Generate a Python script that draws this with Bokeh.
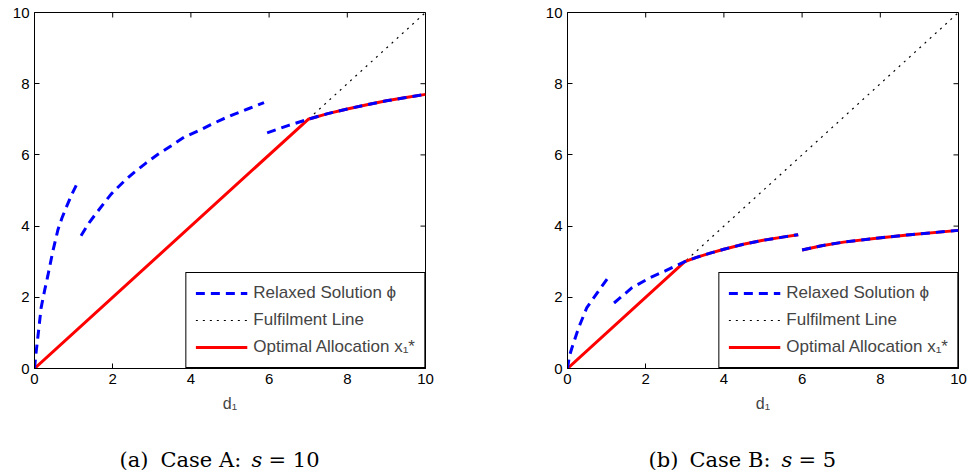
from bokeh.plotting import figure
from bokeh.models import Legend, LegendItem, FixedTicker, Range1d
from bokeh.layouts import row, column
from bokeh.core.properties import value
from bokeh.embed import file_html
from bokeh.resources import INLINE

# ---------------- data ----------------
ticks = [0, 2, 4, 6, 8, 10]
fulfil_x = [0, 10]
fulfil_y = [0, 10]

# Case A (s = 10): relaxed solution phi, three pieces
a_phi1_x = [0, 0.03, 0.085, 0.17, 0.26, 0.34, 0.47, 0.60, 0.70, 0.81, 0.95, 1.10]
a_phi1_y = [0, 0.35, 0.87, 1.71, 2.20, 2.60, 3.30, 3.90, 4.22, 4.52, 4.88, 5.22]
a_phi2_x = [1.19, 1.40, 1.62, 1.96, 2.30, 2.55, 2.85, 3.15, 3.50, 3.83, 4.20, 4.51, 4.80, 5.10, 5.50, 5.87]
a_phi2_y = [3.73, 4.10, 4.42, 4.90, 5.27, 5.51, 5.77, 6.01, 6.26, 6.50, 6.68, 6.85, 7.00, 7.14, 7.31, 7.47]
a_phi3_x = [5.95, 6.5, 7.0, 7.5, 8.0, 8.5, 9.0, 9.5, 10.0]
a_phi3_y = [6.62, 6.83, 7.00, 7.16, 7.29, 7.41, 7.52, 7.61, 7.70]
# Case A: optimal allocation x1*
a_opt_x = [0, 7.0, 7.5, 8.0, 8.5, 9.0, 9.5, 10.0]
a_opt_y = [0, 7.0, 7.16, 7.29, 7.41, 7.52, 7.61, 7.70]

# Case B (s = 5): relaxed solution phi, three pieces
b_phi1_x = [0, 0.05, 0.11, 0.28, 0.49, 0.79, 1.09]
b_phi1_y = [0, 0.35, 0.57, 1.13, 1.70, 2.17, 2.63]
b_phi2_x = [1.19, 1.65, 2.11, 2.50, 2.80, 3.00, 3.30, 3.65, 4.00, 4.50, 5.00, 5.50, 5.90]
b_phi2_y = [1.84, 2.27, 2.55, 2.74, 2.90, 3.00, 3.12, 3.24, 3.35, 3.49, 3.60, 3.69, 3.76]
b_phi3_x = [6.0, 6.5, 7.06, 7.9, 8.76, 10.0]
b_phi3_y = [3.33, 3.45, 3.55, 3.66, 3.76, 3.88]
# Case B: optimal allocation x1*, two pieces
b_opt1_x = [0, 3.00, 3.30, 3.65, 4.00, 4.50, 5.00, 5.50, 5.90]
b_opt1_y = [0, 3.00, 3.12, 3.24, 3.35, 3.49, 3.60, 3.69, 3.76]
b_opt2_x = [6.0, 6.5, 7.06, 7.9, 8.76, 10.0]
b_opt2_y = [3.33, 3.45, 3.55, 3.66, 3.76, 3.88]

legend_labels = ["Relaxed Solution \u03d5", "Fulfilment Line", "Optimal Allocation x\u2081*"]
x_label = "d\u2081"
cap_a = ["(a)", "Case A:", "s", "= 10"]
cap_b = ["(b)", "Case B:", "s", "= 5"]

# ---------------- styling ----------------
SANS = "Liberation Sans"
SERIF = "DejaVu Serif"
BLUE = "#0000ff"
RED = "#ff0000"
FW, FH = 391, 356
TICK_PX = 5
CAP_H = 46


def style_axis(ax):
    ax.ticker = FixedTicker(ticks=ticks)
    ax.major_tick_in = TICK_PX
    ax.major_tick_out = 0
    ax.minor_tick_line_color = None
    ax.axis_line_color = "black"
    ax.major_tick_line_color = "black"
    ax.major_label_text_font = SANS
    ax.major_label_text_font_size = "15px"
    ax.major_label_text_color = "black"
    ax.major_label_standoff = 5


def panel(phi_xs, phi_ys, opt_xs, opt_ys, left, right):
    p = figure(frame_width=FW, frame_height=FH,
               x_range=Range1d(0, 10), y_range=Range1d(0, 10),
               output_backend="svg", toolbar_location=None,
               min_border_left=left, min_border_right=right,
               min_border_top=12, min_border_bottom=102 - CAP_H)
    p.grid.visible = False
    p.outline_line_color = "black"
    p.outline_line_width = 1
    p.outline_line_alpha = 1
    style_axis(p.xaxis[0])
    style_axis(p.yaxis[0])
    p.xaxis[0].axis_label = x_label
    p.xaxis[0].axis_label_text_font = SANS
    p.xaxis[0].axis_label_text_font_size = "16px"
    p.xaxis[0].axis_label_text_font_style = "normal"
    p.xaxis[0].axis_label_standoff = 8

    # tick marks on the top and right edges of the box (pointing inwards)
    tx = TICK_PX * 10.0 / FH
    ty = TICK_PX * 10.0 / FW
    p.segment(x0=ticks, y0=[10] * len(ticks), x1=ticks, y1=[10 - tx] * len(ticks),
              line_color="black", line_width=1)
    p.segment(x0=[10] * len(ticks), y0=ticks, x1=[10 - ty] * len(ticks), y1=ticks,
              line_color="black", line_width=1)

    dot = p.line(fulfil_x, fulfil_y, line_color="black", line_width=1.2,
                 line_dash="2 5")
    red = p.multi_line(xs=opt_xs, ys=opt_ys, line_color=RED, line_width=3)
    blue = p.multi_line(xs=phi_xs, ys=phi_ys, line_color=BLUE, line_width=3,
                        line_dash="9 6")

    leg = Legend(items=[LegendItem(label=legend_labels[0], renderers=[blue]),
                        LegendItem(label=legend_labels[1], renderers=[dot]),
                        LegendItem(label=legend_labels[2], renderers=[red])],
                 location="bottom_right")
    leg.border_line_color = "black"
    leg.border_line_width = 1
    leg.border_line_alpha = 1
    leg.background_fill_color = "white"
    leg.background_fill_alpha = 1
    leg.margin = 0
    leg.padding = 9
    leg.spacing = 5
    leg.glyph_width = 52
    leg.glyph_height = 22
    leg.label_height = 22
    leg.label_standoff = 6
    leg.label_text_font = SANS
    leg.label_text_font_size = "17px"
    p.add_layout(leg)
    return p


def caption(parts, xs_px, width):
    c = figure(width=width, height=CAP_H, x_range=Range1d(0, width),
               y_range=Range1d(CAP_H, 0), output_backend="svg",
               toolbar_location=None, x_axis_type=None, y_axis_type=None,
               min_border=0, outline_line_color=None)
    base = 459 - (470 - CAP_H)
    for txt, xp in zip(parts, xs_px):
        c.text(x=[xp], y=[base], text=[txt], text_font=value(SERIF),
               text_font_size="21px", text_baseline="alphabetic",
               text_align="left", text_color="black",
               text_font_style="italic" if txt == "s" else "normal")
    return c


pA = panel([a_phi1_x, a_phi2_x, a_phi3_x], [a_phi1_y, a_phi2_y, a_phi3_y],
           [a_opt_x], [a_opt_y], 34, 60)
pB = panel([b_phi1_x, b_phi2_x, b_phi3_x], [b_phi1_y, b_phi2_y, b_phi3_y],
           [b_opt1_x, b_opt2_x], [b_opt1_y, b_opt2_y], 82, 13)
cA = caption(cap_a, [119, 160, 251, 268], 485)
cB = caption(cap_b, [163, 204, 296, 313], 486)

layout = column(row(pA, pB), row(cA, cB))
open("out.html", "w").write(file_html(layout, INLINE))
